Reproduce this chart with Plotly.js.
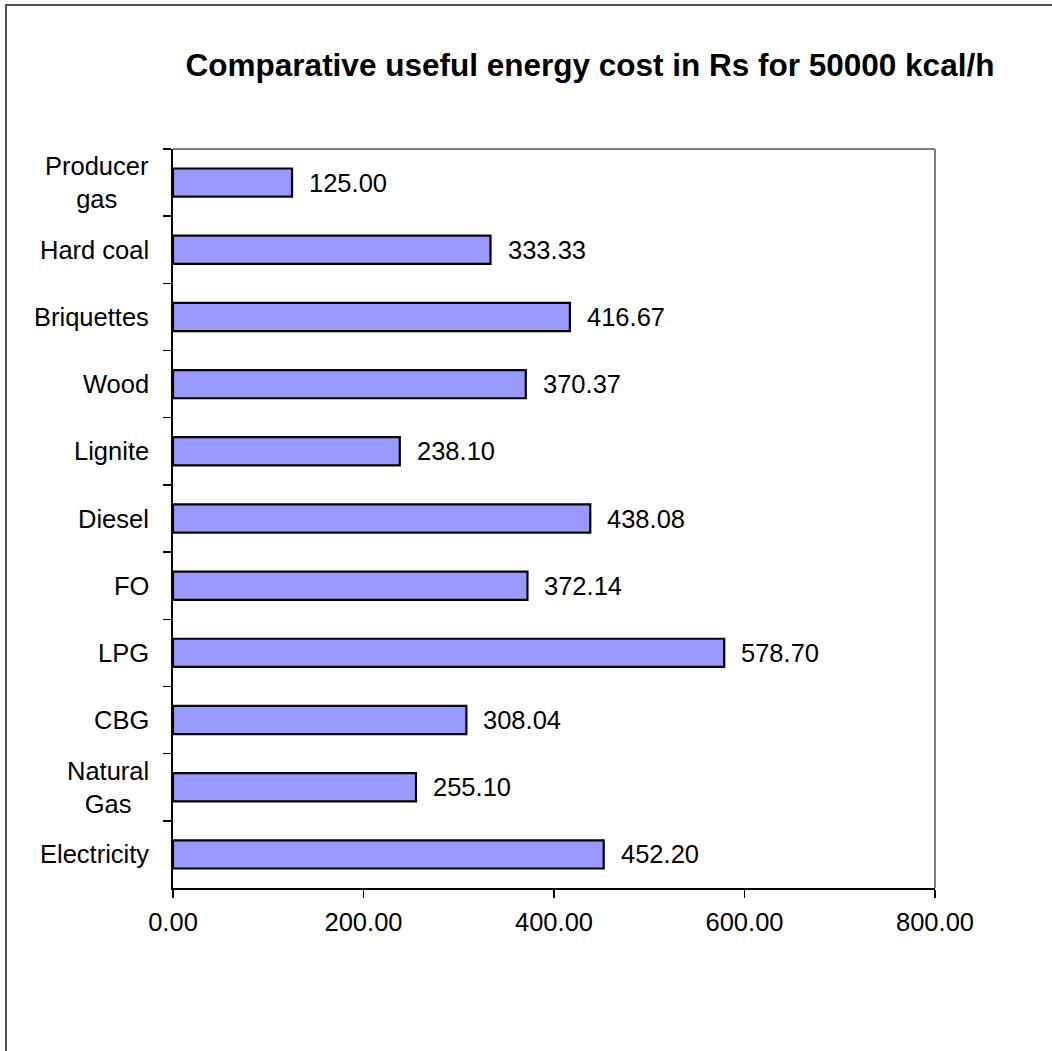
<!DOCTYPE html>
<html>
<head>
<meta charset="utf-8">
<script src="https://cdn.plot.ly/plotly-3.0.1.min.js"></script>
<style>
  html, body { margin: 0; padding: 0; background: #fff; }
  #chart { width: 1052px; height: 1051px; }
</style>
</head>
<body>
<div id="chart"></div>
<script>
// Data (top to bottom as shown in the chart)
const categories = ["Producer<br>gas", "Hard coal", "Briquettes", "Wood", "Lignite", "Diesel", "FO", "LPG", "CBG", "Natural<br>Gas", "Electricity"];
const values = [125.00, 333.33, 416.67, 370.37, 238.10, 438.08, 372.14, 578.70, 308.04, 255.10, 452.20];
const valueLabels = ["125.00", "333.33", "416.67", "370.37", "238.10", "438.08", "372.14", "578.70", "308.04", "255.10", "452.20"];
const xTickValues = [0, 200, 400, 600, 800];
const xTickLabels = ["0.00", "200.00", "400.00", "600.00", "800.00"];
const chartTitle = "Comparative useful energy cost in Rs for 50000 kcal/h";

const FONT = "Arial, 'Liberation Sans', Helvetica, sans-serif";
const FS = 25.5;

const trace = {
  type: "bar",
  orientation: "h",
  y: categories,
  x: values,
  marker: { color: "#9999FF", line: { color: "#000000", width: 2.2 } },
  hoverinfo: "x+y"
};

const annotations = [];
// category labels (centered multi-line, right-anchored like the original)
categories.forEach((c) => {
  annotations.push({
    xref: "paper", yref: "y", x: 0, y: c, text: c,
    xanchor: "right", yanchor: "middle", align: "center",
    xshift: -22, showarrow: false,
    font: { family: FONT, size: FS, color: "#000" }
  });
});
// value labels
values.forEach((v, i) => {
  annotations.push({
    xref: "x", yref: "y", x: v, y: categories[i], text: valueLabels[i],
    xanchor: "left", yanchor: "middle", xshift: 15, showarrow: false,
    font: { family: FONT, size: FS, color: "#000" }
  });
});

// plot-area border (top/right in gray) and outer chart frame
const L = 173, R = 935, T = 149, B = 888, W = 1052, H = 1051;
const pw = R - L, ph = B - T;
const shapes = [
  { type: "line", xref: "paper", yref: "paper", x0: 0, x1: 1, y0: 1, y1: 1, line: { color: "#808080", width: 2 } },
  { type: "line", xref: "paper", yref: "paper", x0: 1, x1: 1, y0: 0, y1: 1, line: { color: "#808080", width: 2 } },
  { type: "rect", xref: "paper", yref: "paper",
    x0: (6 - L) / pw, x1: (W + 20 - L) / pw,
    y0: (B - 5) / ph, y1: (B - (H + 20)) / ph,
    line: { color: "#505050", width: 2 }, fillcolor: "rgba(0,0,0,0)", layer: "below" }
];

const layout = {
  width: W, height: H,
  margin: { l: L, r: W - R, t: T, b: H - B, pad: 0 },
  paper_bgcolor: "#ffffff",
  plot_bgcolor: "#ffffff",
  font: { family: FONT, size: FS, color: "#000" },
  showlegend: false,
  bargap: 0.58,
  title: {
    text: "<b>" + chartTitle + "</b>",
    font: { family: FONT, size: 31.5, color: "#000" },
    x: 590 / W, xanchor: "center", xref: "container",
    y: 1 - 65 / H, yanchor: "middle", yref: "container"
  },
  xaxis: {
    range: [0, 800],
    tickvals: xTickValues, ticktext: xTickLabels,
    ticks: "outside", ticklen: 8, tickwidth: 1.5, tickcolor: "#000",
    showline: true, linecolor: "#000", linewidth: 2,
    showgrid: false, zeroline: false,
    tickfont: { family: FONT, size: FS, color: "#000" },
    ticklabelstandoff: 2,
    fixedrange: true
  },
  yaxis: {
    type: "category",
    categoryorder: "array", categoryarray: categories,
    autorange: "reversed",
    tickson: "boundaries",
    ticks: "outside", ticklen: 8, tickwidth: 1.5, tickcolor: "#000",
    showticklabels: false,
    showline: true, linecolor: "#000", linewidth: 2,
    showgrid: false, zeroline: false,
    fixedrange: true
  },
  annotations: annotations,
  shapes: shapes
};

Plotly.newPlot("chart", [trace], layout, { displayModeBar: false, staticPlot: true });
</script>
</body>
</html>
